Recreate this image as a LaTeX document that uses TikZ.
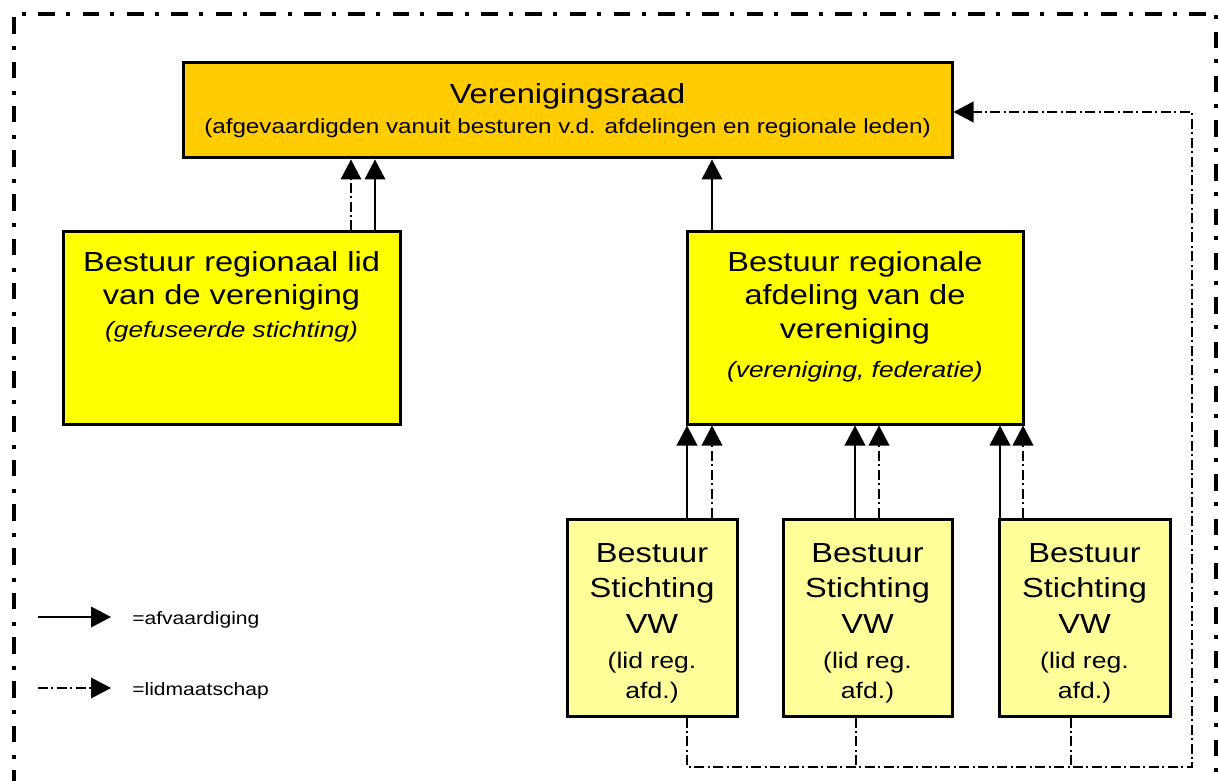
\documentclass[tikz,border=0pt]{standalone}
\usepackage{fontspec}
\setmainfont{Liberation Sans}[FakeStretch=1.18]
\usetikzlibrary{arrows.meta,fit}
\definecolor{raadfill}{HTML}{FFCC00}
\definecolor{afdfill}{HTML}{FFFF00}
\definecolor{stfill}{HTML}{FFFF99}
\begin{document}
\begin{tikzpicture}[x=0.75pt,y=-0.75pt,
  box/.style={draw=black, line width=2.25pt, inner sep=0pt},
  txt/.style={anchor=base, inner sep=0pt},
  bigt/.style={txt, font=\fontsize{20.7pt}{24pt}\selectfont},
  midt/.style={txt, font=\fontsize{16.7pt}{20pt}\selectfont\itshape},
  smallt/.style={txt, font=\fontsize{16.9pt}{20pt}\selectfont},
  subt/.style={txt, font=\fontsize{15.4pt}{18pt}\selectfont},
  legt/.style={anchor=base west, inner sep=0pt, font=\fontsize{13.4pt}{16pt}\selectfont},
  delegation/.style={line width=1.1pt, -{Triangle[length=15pt,width=15.5pt]}},
  memberline/.style={line width=1.1pt, dash pattern=on 7.5pt off 2.6pt on 1.5pt off 2.6pt},
  membership/.style={memberline, -{Triangle[length=15pt,width=15.5pt]}},
  frameline/.style={line width=2.6pt, dash pattern=on 12.4pt off 8.4pt on 3pt off 9.4pt, dash phase=4pt}]
\useasboundingbox (0,0) rectangle (1218,781);

% outer frame
\draw[frameline] (14,781) -- (14,14) -- (1216,14) -- (1216,781);

% Verenigingsraad
\node[box, fill=raadfill, fit={(183,63) (952,158)}] (raad) {};
\node[bigt] (raadT1) at (567.5,104) {Verenigingsraad};
\node[subt] (raadT2) at (567.5,134) {(afgevaardigden vanuit besturen v.d. afdelingen en regionale leden)};

% regional member
\node[box, fill=afdfill, fit={(63,232) (400,424)}] (lid) {};
\node[bigt] (lidT1) at (231.5,272) {Bestuur regionaal lid};
\node[bigt] (lidT2) at (231.5,305) {van de vereniging};
\node[midt] (lidT3) at (231.5,337) {(gefuseerde stichting)};

% regional department
\node[box, fill=afdfill, fit={(687,232) (1023,424)}] (afd) {};
\node[bigt] (afdT1) at (855,272) {Bestuur regionale};
\node[bigt] (afdT2) at (855,305) {afdeling van de};
\node[bigt] (afdT3) at (855,338) {vereniging};
\node[midt] (afdT4) at (855,377) {(vereniging, federatie)};

% foundations
\node[box, fill=stfill, fit={(567,519) (737,716)}] (st1) {};
\node[box, fill=stfill, fit={(783,519) (952,716)}] (st2) {};
\node[box, fill=stfill, fit={(999,519) (1170,716)}] (st3) {};
\foreach \s/\cx in {st1/652, st2/867.5, st3/1084.5} {
  \node[bigt] (\s T1) at (\cx,562) {Bestuur};
  \node[bigt] (\s T2) at (\cx,597) {Stichting};
  \node[bigt] (\s T3) at (\cx,633) {VW};
  \node[smallt] (\s T4) at (\cx,668) {(lid reg.};
  \node[smallt] (\s T5) at (\cx,698) {afd.)};
}

% x positions of the vertical connectors
\coordinate (xA) at (351,0);
\coordinate (xB) at (375,0);
\coordinate (xC) at (712,0);
\coordinate (s1a) at (687,0);
\coordinate (s1b) at (712,0);
\coordinate (s2a) at (855,0);
\coordinate (s2b) at (879,0);
\coordinate (s3a) at (1000,0);
\coordinate (s3b) at (1023,0);

% upward connectors
\draw[membership] (lid.north -| xA) -- (raad.south -| xA);
\draw[delegation] (lid.north -| xB) -- (raad.south -| xB);
\draw[delegation] (afd.north -| xC) -- (raad.south -| xC);
\draw[delegation] (st1.north -| s1a) -- (afd.south -| s1a);
\draw[membership] (st1.north -| s1b) -- (afd.south -| s1b);
\draw[delegation] (st2.north -| s2a) -- (afd.south -| s2a);
\draw[membership] (st2.north -| s2b) -- (afd.south -| s2b);
\draw[delegation] (st3.north -| s3a) -- (afd.south -| s3a);
\draw[membership] (st3.north -| s3b) -- (afd.south -| s3b);

% membership loop back to the Verenigingsraad
\coordinate (b1) at (687,767);
\coordinate (b2) at (856,767);
\coordinate (b3) at (1071,767);
\coordinate (bR) at (1192,767);
\coordinate (tR) at (1192,112);
\draw[membership] (st1.south -| b1) -- (b1) -- (bR) -- (tR) -- (raad.east |- tR);
\draw[memberline] (st2.south -| b2) -- (b2);
\draw[memberline] (st3.south -| b3) -- (b3);

% legend
\coordinate (la1) at (38,617);
\coordinate (la2) at (111,617);
\coordinate (lb1) at (38,688);
\coordinate (lb2) at (111,688);
\draw[delegation] (la1) -- (la2);
\draw[membership] (lb1) -- (lb2);
\node[legt] (legA) at (132,624) {=afvaardiging};
\node[legt] (legB) at (132,695) {=lidmaatschap};
\end{tikzpicture}
\end{document}
